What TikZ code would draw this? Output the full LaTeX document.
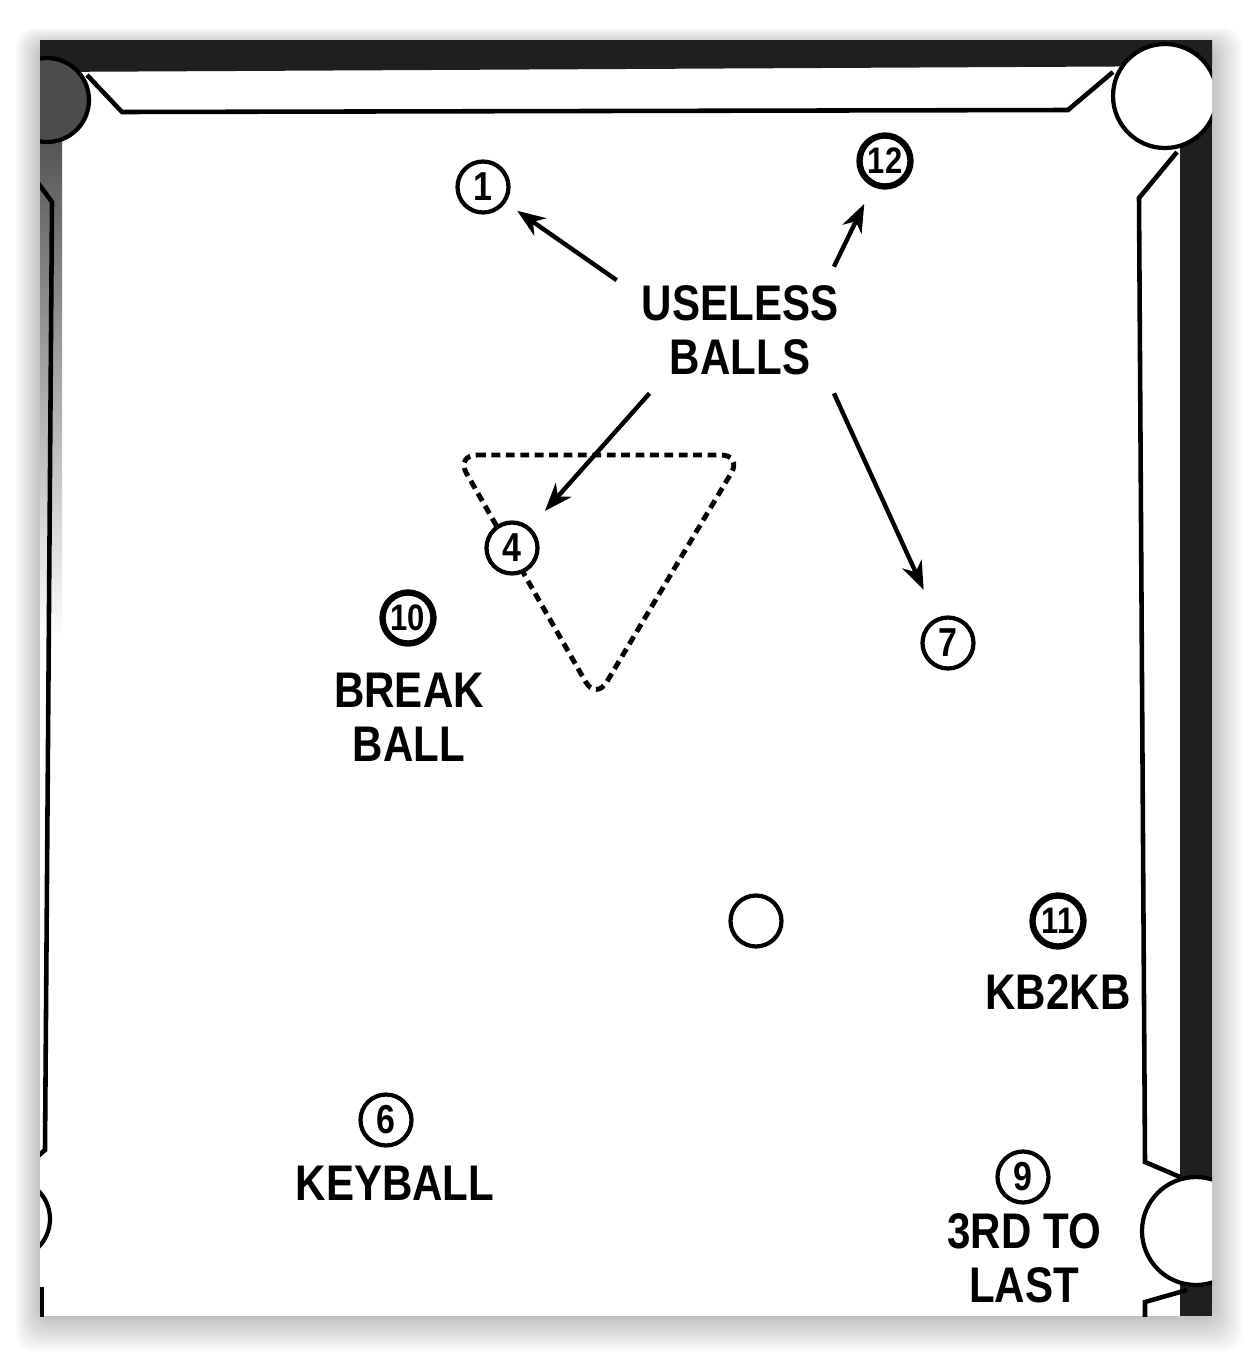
\documentclass[tikz,border=0pt]{standalone}
\usepackage{fontspec}
\newfontfamily\tablefont[FakeStretch=0.84]{Liberation Sans}
\usetikzlibrary{arrows.meta}

\begin{document}
\begin{tikzpicture}[x=0.02cm, y=-0.02cm,
    rail/.style={fill=black!88},
    cushion/.style={line width=2.6pt},
    pocket/.style={draw, line width=2.4pt},
    ball/.style={circle, draw, fill=white, line width=2.4pt, minimum size=1.02cm, inner sep=0pt,
      font=\tablefont\bfseries\fontsize{23}{23}\selectfont},
    stripe/.style={ball, line width=3.6pt, font=\tablefont\bfseries\fontsize{21}{21}\selectfont},
    label/.style={font=\tablefont\bfseries\fontsize{28.5}{31}\selectfont, align=center, inner sep=0pt},
    pointer/.style={-{Stealth[length=16pt, width=12pt, inset=5pt]}, line width=2.5pt}]

      % Page and shadow
      \useasboundingbox (0,0) rectangle (1252,1356);
      \fill[white] (0,0) rectangle (1252,1356);
      \foreach \i in {1,...,12}
        \fill[black, opacity=0.018, rounded corners=10pt] (40-2*\i,46-1.5*\i) rectangle (1212+2.5*\i,1316+3*\i);
      \fill[white] (40,40) rectangle (1212,1316);

      \begin{scope}
        \clip (40,40) rectangle (1212,1316);

        % Rails
        \shade[top color=black!80, bottom color=white] (40,40) rectangle (62,640);
        \fill[rail] (40,40) -- (1212,40) -- (1212,66) -- (40,72) -- cycle;
        \fill[rail] (1180,60) rectangle (1212,1316);

        % Pockets
        \filldraw[pocket, fill=black!70] (47,100) circle (42);
        \filldraw[pocket, fill=white] (1165,96) circle (52);
        \filldraw[pocket, fill=white] (1196,1231) circle (54);
        \draw[pocket] (10,1219) circle (40);

        % Cushions
        \draw[cushion] (87,75) -- (122,112) -- (1068,110) -- (1113,72);
        \draw[cushion] (1177,152) -- (1139,198) -- (1145,1162) -- (1180,1177);
        \draw[cushion] (1187,1290) -- (1145,1302) -- (1145,1330);
        \draw[cushion] (38,183) -- (52,202) -- (45,1150) -- (38,1156);
        \draw[cushion] (42,1287) -- (42,1330);
      \end{scope}

      % Rack
      \draw[line width=2.8pt, dash pattern=on 5pt off 3.2pt, rounded corners=12pt]
        (456,455) -- (742,455) -- (596,700) -- cycle;

      % Balls
      \node[ball] (b1) at (483,187) {1};
      \node[stripe] (b12) at (885,161) {12};
      \node[ball] (b4) at (512,548) {4};
      \node[stripe] (b10) at (408,618) {10};
      \node[ball] (b7) at (948,643) {7};
      \node[ball] (cue) at (756,921) {};
      \node[stripe] (b11) at (1058,921) {11};
      \node[ball] (b6) at (386,1120) {6};
      \node[ball] (b9) at (1023,1177) {9};

      % Labels
      \node[label, minimum width=4.92cm, minimum height=2.52cm] (useless) at (740,330) {USELESS\\BALLS};
      \node[label] (breakball) at (409,717) {BREAK\\BALL};
      \node[label] (kb2kb) at (1058,992) {KB2KB};
      \node[label] (keyball) at (395,1183) {KEYBALL};
      \node[label] (thirdlast) at (1024,1258) {3RD TO\\LAST};

      % Arrows
      \draw[pointer, shorten >=0.28cm] (useless.158) -- (b1);
      \draw[pointer, shorten >=0.38cm] (useless.34) -- (b12);
      \draw[pointer, shorten >=0.44cm] (useless.215) -- (b4);
      \draw[pointer, shorten >=0.62cm] (useless.326) -- (b7);
\end{tikzpicture}
\end{document}
